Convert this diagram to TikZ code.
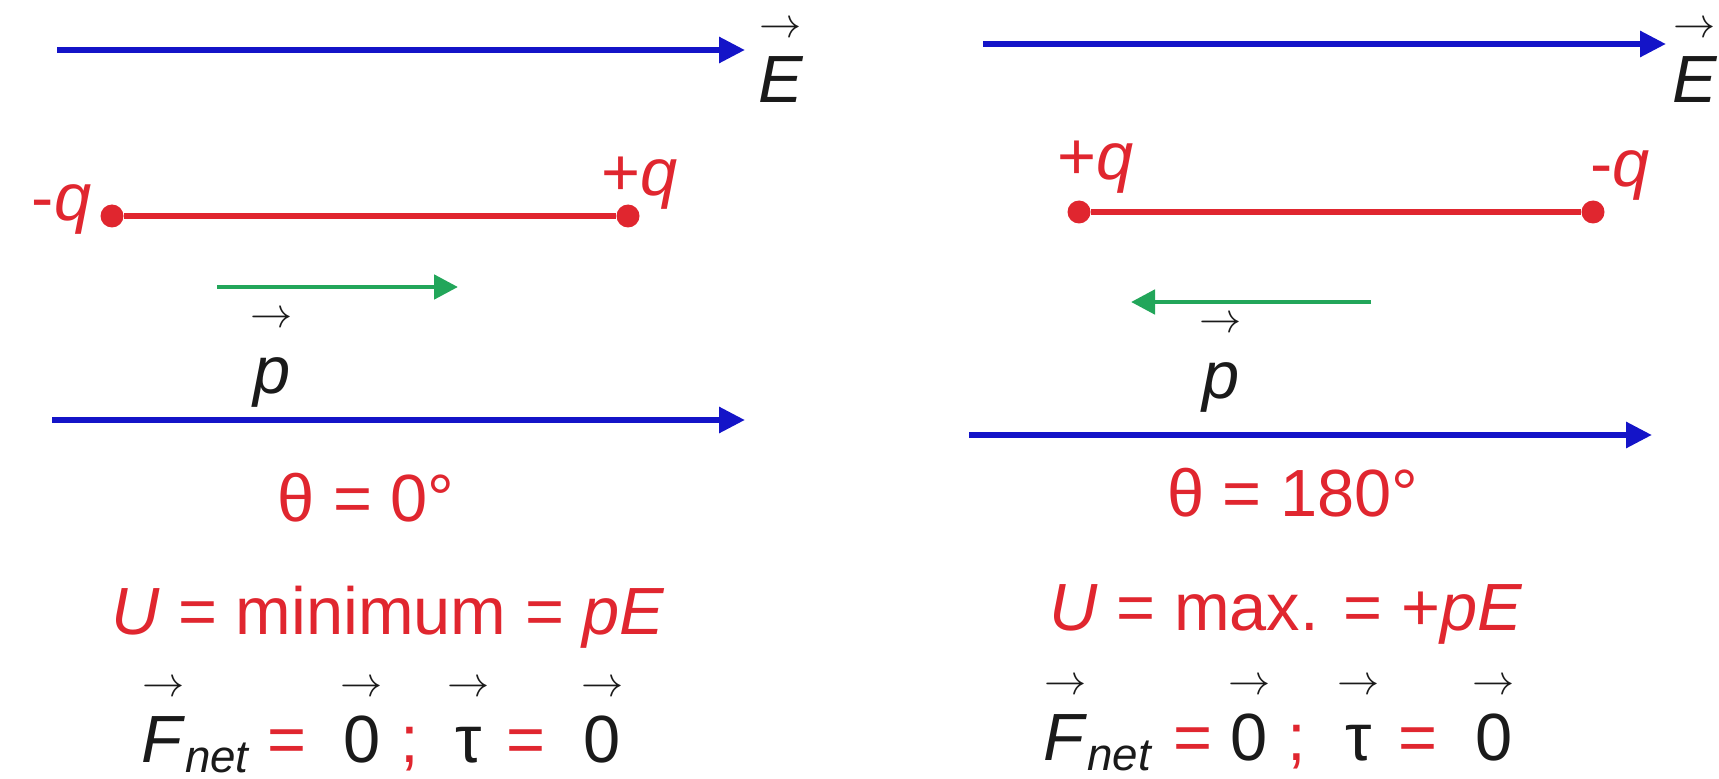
\documentclass[tikz,border=0pt]{standalone}
\usepackage{fontspec}
\setmainfont{Liberation Sans}
\usetikzlibrary{arrows.meta,positioning}
\definecolor{fieldblue}{HTML}{1414C8}
\definecolor{chargered}{HTML}{E0262F}
\definecolor{dipolegreen}{HTML}{22A65A}
\definecolor{ink}{HTML}{1A1A1A}

\newcommand{\vecof}[1]{\ooalign{#1\cr\hidewidth\raisebox{18.5pt}{\fontsize{12}{12}\selectfont$\rightarrow$}\hidewidth\cr}}
\newcommand{\subnet}{\raisebox{-0.3ex}{\fontsize{13}{13}\selectfont\itshape net}}
\newcommand{\req}{\textcolor{chargered}{=}}
\newcommand{\rsemi}{\textcolor{chargered}{;}}

\begin{document}
\begin{tikzpicture}[
    x=0.1mm, y=-0.1mm,
    font=\fontsize{19}{23}\selectfont,
    field/.style={draw=fieldblue, line width=1.7pt,
        -{Triangle[length=2.6mm,width=2.5mm]}},
    rod/.style={draw=chargered, line width=1.5pt},
    charge/.style={circle, fill=chargered, inner sep=0pt, minimum size=2.3mm},
    moment/.style={draw=dipolegreen, line width=1.4pt,
        -{Triangle[length=2.4mm,width=2.4mm]}},
    qlabel/.style={text=chargered, inner sep=0pt},
    vlabel/.style={text=ink, inner sep=0pt},
    eqn/.style={text=chargered, inner sep=0pt}
]
\useasboundingbox (0,0) rectangle (1719,779);
\clip (0,0) rectangle (1719,779);

% theta = 0
\coordinate (fieldAtail) at (57,50);
\coordinate (fieldAhead) at (745,50);
\draw[field] (fieldAtail) -- (fieldAhead);
\node[vlabel, anchor=base] (efieldA) at (781,103) {\vecof{\textit{E}}};

\node[charge] (negA) at (112,216) {};
\node[charge] (posA) at (628,216) {};
\draw[rod] (negA) -- (posA);
\node[qlabel, anchor=base east] (negAlbl) at (92,221) {-\textit{q}};
\node[qlabel, anchor=base] (posAlbl) at (640,196) {+\textit{q}};

\coordinate (momAtail) at (217,287);
\coordinate (momAhead) at (458,287);
\draw[moment] (momAtail) -- (momAhead);
\node[vlabel, anchor=base] (pA) at (272,393) {\vecof{\textit{p}}};

\coordinate (fieldBtail) at (52,420);
\coordinate (fieldBhead) at (745,420);
\draw[field] (fieldBtail) -- (fieldBhead);

\node[eqn, anchor=base] (thetaA) at (366,521) {θ = 0°};
\node[eqn, anchor=base] (energyA) at (388,634) {\textit{U} = minimum = \textit{pE}};
\node[vlabel, anchor=base] (forceA) at (381,762) {\vecof{\textit{F}}\subnet\hspace{0.28em}\req\hspace{0.55em}\vecof{0}\hspace{0.3em}\rsemi\hspace{0.55em}\vecof{τ}\hspace{0.37em}\req\hspace{0.57em}\vecof{0}};

% theta = 180
\coordinate (fieldCtail) at (983,44);
\coordinate (fieldChead) at (1666,44);
\draw[field] (fieldCtail) -- (fieldChead);
\node[vlabel, anchor=base] (efieldC) at (1695,103) {\vecof{\textit{E}}};

\node[charge] (posC) at (1079,212) {};
\node[charge] (negC) at (1593,212) {};
\draw[rod] (posC) -- (negC);
\node[qlabel, anchor=base] (posClbl) at (1096,180) {+\textit{q}};
\node[qlabel, anchor=base] (negClbl) at (1620,187) {-\textit{q}};

\coordinate (momCtail) at (1371,302);
\coordinate (momChead) at (1131,302);
\draw[moment] (momCtail) -- (momChead);
\node[vlabel, anchor=base] (pC) at (1221,398) {\vecof{\textit{p}}};

\coordinate (fieldDtail) at (969,435);
\coordinate (fieldDhead) at (1652,435);
\draw[field] (fieldDtail) -- (fieldDhead);

\node[eqn, anchor=base] (thetaC) at (1293,516) {θ = 180°};
\node[eqn, anchor=base] (energyC) at (1286,630) {\textit{U} = max. = +\textit{pE}};
\node[vlabel, anchor=base] (forceC) at (1278,760) {\vecof{\textit{F}}\subnet\hspace{0.33em}\req\hspace{0.28em}\vecof{0}\hspace{0.3em}\rsemi\hspace{0.58em}\vecof{τ}\hspace{0.4em}\req\hspace{0.57em}\vecof{0}};

\end{tikzpicture}
\end{document}
